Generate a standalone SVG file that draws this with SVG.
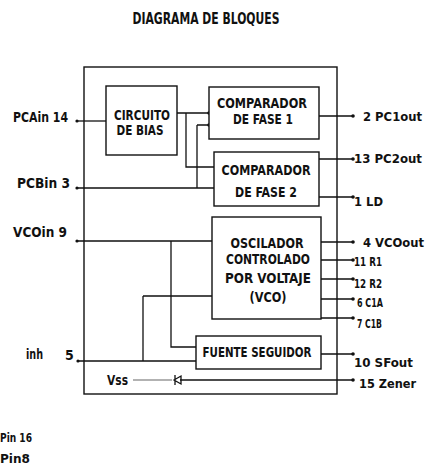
<svg xmlns="http://www.w3.org/2000/svg" width="427" height="467" viewBox="0 0 427 467">
<style>
text{font-family:"DejaVu Sans Condensed","Liberation Sans",sans-serif;font-weight:bold;fill:#111;}
.box{fill:#fff;stroke:#111;stroke-width:1.4;}
.w{fill:none;stroke:#111;stroke-width:1.3;}
.g{fill:none;stroke:#999;stroke-width:1.5;}
.t{font-size:13.5px;text-anchor:middle;}
.p{font-size:14px;}
.r{font-size:13px;}
.dot{fill:#111;}
</style>
<rect width="427" height="467" fill="#fff"/>
<text x="206" y="24" font-size="15" text-anchor="middle" textLength="147" lengthAdjust="spacingAndGlyphs">DIAGRAMA DE BLOQUES</text>
<rect id="chip" class="box" x="84" y="67" width="253" height="327" fill="none"/>
<g id="connectors">
  <path class="w" d="M77 121H106"/>
  <path class="w" d="M177 113H209M186 113V167H214M197 125H209M197 125V188M77 188H214"/>
  <path class="w" d="M77 241H212M171 241V347H196M143 296H212M143 296V361M78 361H196"/>
  <path class="w" d="M319 116H353M319 159H353M319 197H353M321 242H353M321 260H353M321 279H353M321 299H353M321 318H353M321 354H353"/>
  <path class="w" d="M353 380H180"/>
  <path class="g" d="M133 380H172"/>
  <path class="w" d="M174 380L181 376V384ZM175 375V385" fill="#111"/>
  <g class="dot">
    <circle cx="77" cy="121" r="1.6"/><circle cx="77" cy="188" r="1.6"/><circle cx="77" cy="241" r="1.6"/><circle cx="78" cy="361" r="1.6"/>
    <circle cx="209" cy="113" r="1.8"/><circle cx="209" cy="125" r="1.8"/>
    <circle cx="353" cy="116" r="1.8"/><circle cx="353" cy="159" r="1.8"/><circle cx="353" cy="197" r="1.8"/><circle cx="353" cy="242" r="1.8"/><circle cx="353" cy="260" r="1.8"/><circle cx="353" cy="279" r="1.8"/><circle cx="353" cy="299" r="1.8"/><circle cx="353" cy="318" r="1.8"/><circle cx="353" cy="354" r="1.8"/><circle cx="353" cy="380" r="1.8"/>
  </g>
</g>
<g id="bias">
  <rect class="box" x="106" y="86" width="71" height="69"/>
  <text class="t" x="142" y="120" textLength="56" lengthAdjust="spacingAndGlyphs">CIRCUITO</text>
  <text class="t" x="140" y="135" textLength="47" lengthAdjust="spacingAndGlyphs">DE BIAS</text>
</g>
<g id="comp1">
  <rect class="box" x="209" y="87" width="110" height="52"/>
  <text class="t" x="262" y="108" textLength="90" lengthAdjust="spacingAndGlyphs">COMPARADOR</text>
  <text class="t" x="263" y="124" textLength="60" lengthAdjust="spacingAndGlyphs">DE FASE 1</text>
</g>
<g id="comp2">
  <rect class="box" x="214" y="152" width="105" height="54"/>
  <text class="t" x="266" y="175" textLength="89" lengthAdjust="spacingAndGlyphs">COMPARADOR</text>
  <text class="t" x="266" y="197" textLength="62" lengthAdjust="spacingAndGlyphs">DE FASE 2</text>
</g>
<g id="vco">
  <rect class="box" x="212" y="217" width="109" height="102"/>
  <text class="t" x="267" y="248" textLength="73" lengthAdjust="spacingAndGlyphs">OSCILADOR</text>
  <text class="t" x="268" y="264" textLength="84" lengthAdjust="spacingAndGlyphs">CONTROLADO</text>
  <text class="t" x="268" y="283" textLength="86" lengthAdjust="spacingAndGlyphs">POR VOLTAJE</text>
  <text class="t" x="268" y="302" textLength="37" lengthAdjust="spacingAndGlyphs">(VCO)</text>
</g>
<g id="fuente">
  <rect class="box" x="196" y="336" width="125" height="33"/>
  <text class="t" x="257" y="357" textLength="109" lengthAdjust="spacingAndGlyphs">FUENTE SEGUIDOR</text>
</g>
<g id="pins-left">
  <text class="p" x="13" y="122" textLength="55" lengthAdjust="spacingAndGlyphs">PCAin 14</text>
  <text class="p" x="17" y="188" textLength="53" lengthAdjust="spacingAndGlyphs">PCBin 3</text>
  <text class="p" x="13" y="237" textLength="54" lengthAdjust="spacingAndGlyphs">VCOin 9</text>
  <text class="p" x="26" y="359" textLength="17" lengthAdjust="spacingAndGlyphs">inh</text>
  <text class="p" x="65" y="360">5</text>
  <text class="p" x="107" y="385" textLength="21" lengthAdjust="spacingAndGlyphs">Vss</text>
  <text x="0" y="442" font-size="12" textLength="32" lengthAdjust="spacingAndGlyphs">Pin 16</text>
  <text x="0" y="463" font-size="12" textLength="30" lengthAdjust="spacingAndGlyphs">Pin8</text>
</g>
<g id="pins-right">
  <text class="r" x="363" y="121" textLength="59" lengthAdjust="spacingAndGlyphs">2 PC1out</text>
  <text class="r" x="354" y="163" textLength="68" lengthAdjust="spacingAndGlyphs">13 PC2out</text>
  <text class="r" x="354" y="206" textLength="29" lengthAdjust="spacingAndGlyphs">1 LD</text>
  <text class="r" x="363" y="247" textLength="61" lengthAdjust="spacingAndGlyphs">4 VCOout</text>
  <text class="r" x="354" y="266" textLength="28" lengthAdjust="spacingAndGlyphs">11 R1</text>
  <text class="r" x="354" y="288" textLength="28" lengthAdjust="spacingAndGlyphs">12 R2</text>
  <text class="r" x="357" y="307" textLength="26" lengthAdjust="spacingAndGlyphs">6 C1A</text>
  <text class="r" x="357" y="328" textLength="25" lengthAdjust="spacingAndGlyphs">7 C1B</text>
  <text class="r" x="354" y="367" textLength="59" lengthAdjust="spacingAndGlyphs">10 SFout</text>
  <text class="r" x="359" y="388" textLength="57" lengthAdjust="spacingAndGlyphs">15 Zener</text>
</g>
</svg>
